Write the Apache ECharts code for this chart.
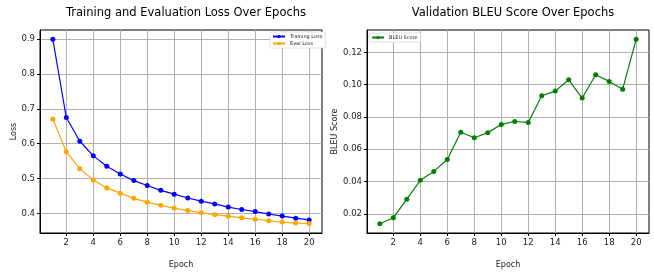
<!DOCTYPE html>
<html>
<head>
<meta charset="utf-8">
<script src="https://cdn.jsdelivr.net/npm/echarts@6/dist/echarts.min.js"></script>
<style>
html,body{margin:0;padding:0;background:#fff;}
#chart{width:654px;height:274px;}
</style>
</head>
<body>
<div id="chart"></div>
<script>
var epochs = [1,2,3,4,5,6,7,8,9,10,11,12,13,14,15,16,17,18,19,20];
var trainLoss = [0.900,0.675,0.607,0.565,0.535,0.513,0.494,0.480,0.466,0.455,0.444,0.435,0.427,0.418,0.411,0.405,0.398,0.392,0.386,0.381];
var evalLoss = [0.671,0.577,0.528,0.496,0.473,0.458,0.443,0.432,0.423,0.415,0.408,0.402,0.396,0.392,0.387,0.383,0.379,0.375,0.372,0.371];
var bleu = [0.0139,0.0176,0.0291,0.0408,0.0463,0.0537,0.0705,0.0671,0.0703,0.0754,0.0772,0.0766,0.0931,0.0960,0.1030,0.0917,0.1061,0.1020,0.0972,0.1281];
var xTicks = [2,4,6,8,10,12,14,16,18,20];
var lossTicks = [0.4,0.5,0.6,0.7,0.8,0.9];
var bleuTicks = [0.02,0.04,0.06,0.08,0.10,0.12];

var FONT = 'DejaVu Sans';

function pairs(xs, ys){
	var out = [];
	for(var i=0;i<xs.length;i++){ out.push([xs[i], ys[i]]); }
	return out;
}

function xAxisOf(gi){
	return {
		type:'value', gridIndex:gi, min:0.05, max:20.95,
		name:'Epoch', nameLocation:'middle', nameGap:28,
		nameTextStyle:{fontFamily:FONT, fontSize:8, color:'#222'},
		axisLine:{show:true, onZero:false, lineStyle:{color:'#000', width:1}},
		axisTick:{show:true, length:3, customValues:xTicks, lineStyle:{color:'#000'}},
		axisLabel:{customValues:xTicks, fontFamily:FONT, fontSize:8.5, color:'#222', margin:5},
		splitLine:{show:true, lineStyle:{color:'#b0b0b0', width:1}}
	};
}

function yAxisOf(gi, name, min, max, ticks, fmt){
	return {
		type:'value', gridIndex:gi, min:min, max:max,
		name:name, nameLocation:'middle', nameGap:fmt ? 21 : 16, nameRotate:90,
		nameTextStyle:{fontFamily:FONT, fontSize:8, color:'#222'},
		axisLine:{show:true, lineStyle:{color:'#000', width:1}},
		axisTick:{show:true, length:3, customValues:ticks, lineStyle:{color:'#000'}},
		axisLabel:{customValues:ticks, fontFamily:FONT, fontSize:8.5, color:'#222', margin:5,
			formatter:function(v){ return fmt ? v.toFixed(2) : v.toFixed(1); }},
		splitLine:{show:true, lineStyle:{color:'#b0b0b0', width:1}}
	};
}

function lineSeries(name, gi, data, color){
	return {
		name:name, type:'line', xAxisIndex:gi, yAxisIndex:gi,
		data:pairs(epochs, data), symbol:'circle', symbolSize:5,
		itemStyle:{color:color}, lineStyle:{color:color, width:1.2},
		animation:false
	};
}

var chart = echarts.init(document.getElementById('chart'));
chart.setOption({
	backgroundColor:'#fff',
	animation:false,
	title:[
		{text:'Training and Evaluation Loss Over Epochs', left:181, top:2, textAlign:'center',
			textStyle:{fontFamily:FONT, fontSize:11.5, fontWeight:'normal', color:'#000'}},
		{text:'Validation BLEU Score Over Epochs', left:508, top:2, textAlign:'center',
			textStyle:{fontFamily:FONT, fontSize:11.5, fontWeight:'normal', color:'#000'}}
	],
	legend:[
		{data:['Training Loss','Eval Loss'], orient:'vertical', left:270, top:32,
			itemWidth:12, itemHeight:4, itemGap:2, padding:[2,3,2,2],
			backgroundColor:'#fff', borderColor:'#ccc', borderWidth:0.6, borderRadius:1,
			textStyle:{fontFamily:FONT, fontSize:5, color:'#222'}},
		{data:['BLEU Score'], orient:'vertical', left:369, top:33,
			itemWidth:12, itemHeight:4, itemGap:2, padding:[2,3,2,2],
			backgroundColor:'#fff', borderColor:'#ccc', borderWidth:0.6, borderRadius:1,
			textStyle:{fontFamily:FONT, fontSize:5, color:'#222'}}
	],
	grid:[
		{left:40, top:30, width:282, height:212, show:true, borderColor:'#000', borderWidth:1},
		{left:367, top:30, width:282, height:212, show:true, borderColor:'#000', borderWidth:1}
	],
	xAxis:[xAxisOf(0), xAxisOf(1)],
	yAxis:[
		yAxisOf(0, 'Loss', 0.3435, 0.9265, lossTicks, false),
		yAxisOf(1, 'BLEU Score', 0.0082, 0.1338, bleuTicks, true)
	],
	series:[
		lineSeries('Training Loss', 0, trainLoss, '#0000ff'),
		lineSeries('Eval Loss', 0, evalLoss, '#ffa500'),
		lineSeries('BLEU Score', 1, bleu, '#008000')
	]
});
</script>
</body>
</html>
